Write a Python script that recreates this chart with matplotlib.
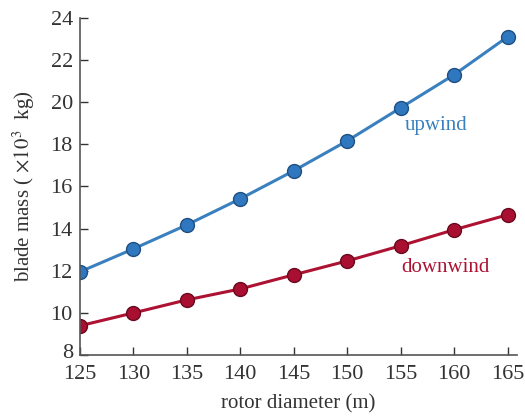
import matplotlib.pyplot as plt
import matplotlib.transforms as mtransforms

# rotor diameter (m) and blade mass (x10^3 kg)
diameter = [125, 130, 135, 140, 145, 150, 155, 160, 165]
upwind = [11.94, 13.03, 14.17, 15.41, 16.74, 18.16, 19.73, 21.3, 23.1]
downwind = [9.38, 9.99, 10.61, 11.13, 11.8, 12.46, 13.18, 13.94, 14.65]

x_ticks = [125, 130, 135, 140, 145, 150, 155, 160, 165]
y_ticks = [8, 10, 12, 14, 16, 18, 20, 22, 24]

blue = "#3a80bf"
red = "#ad1233"

plt.rcParams["font.family"] = ["Liberation Serif", "DejaVu Serif"]
plt.rcParams["mathtext.fontset"] = "stix"

fig = plt.figure(figsize=(5.25, 4.17), dpi=100)
ax = fig.add_axes([0.152, 0.149, 0.833, 0.808])

ax.plot(diameter, upwind, color=blue, linewidth=2.2, marker="o",
        markersize=10, markerfacecolor="#2f78bf", markeredgecolor="#1f4f80",
        markeredgewidth=1.0)
ax.plot(diameter, downwind, color=red, linewidth=2.2, marker="o",
        markersize=10, markerfacecolor="#a80f30", markeredgecolor="#6a0a1e",
        markeredgewidth=1.0)

ax.text(158.3, 18.87, "upwind", color=blue, fontsize=15,
        ha="center", va="center")
ax.text(159.2, 12.13, "downwind", color=red, fontsize=15,
        ha="center", va="center")

ax.set_xlim(125, 165.9)
ax.set_ylim(8, 24)
ax.set_xticks(x_ticks)
ax.set_yticks(y_ticks)
ax.tick_params(direction="in", length=6, width=1, labelsize=16,
               colors="#333333")
ax.tick_params(axis="x", pad=7)
ax.tick_params(axis="y", pad=5)

# lift the bottom "8" a little so it clears the "125" below
shift = mtransforms.ScaledTranslation(0, 4 / 100, fig.dpi_scale_trans)
lbl = ax.get_yticklabels()[0]
lbl.set_transform(lbl.get_transform() + shift)

for side in ["top", "right"]:
    ax.spines[side].set_visible(False)
for side in ["left", "bottom"]:
    ax.spines[side].set_color("#555555")
    ax.spines[side].set_linewidth(1.2)

ax.set_xlabel("rotor diameter (m)", fontsize=15, color="#333333", labelpad=8)
ax.set_ylabel(r"blade mass ( $\times10^3$  kg)", fontsize=15, color="#333333",
              labelpad=10)

fig.savefig("out.png", dpi=100)
